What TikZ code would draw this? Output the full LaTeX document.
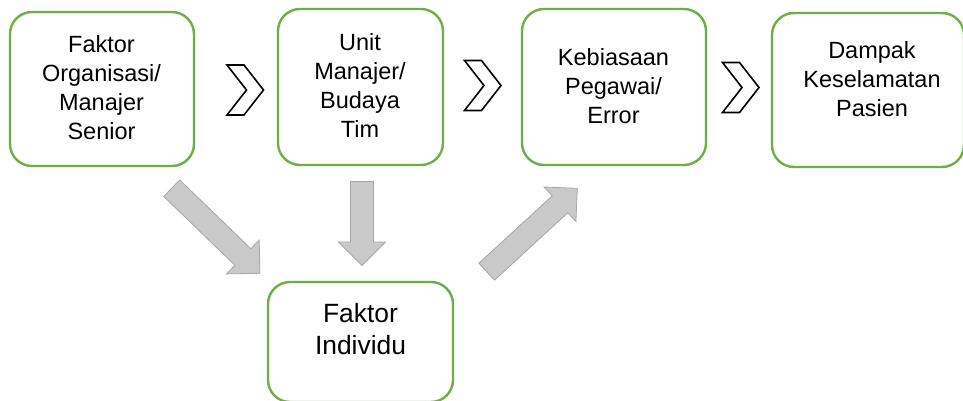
\documentclass[tikz,border=0pt]{standalone}
\usepackage{fontspec}
\setmainfont{Liberation Sans}

\definecolor{boxgreen}{RGB}{112,173,71}
\definecolor{arrowfill}{RGB}{201,201,201}
\definecolor{arrowedge}{RGB}{166,166,166}

\tikzset{
  stage/.style={draw=boxgreen, line width=2.4pt, rounded corners=22pt, fill=white,
                inner sep=0pt, outer sep=0pt},
  stagetext/.style={align=center, inner sep=0pt,
                    font=\fontsize{23.5}{29}\selectfont},
  bigtext/.style={align=center, inner sep=0pt,
                  font=\fontsize{26.4}{32}\selectfont},
  chevron/.style={draw=black, line width=1.6pt, fill=white, line join=miter},
  blockarrow/.style={fill=arrowfill, draw=arrowedge, line width=0.8pt, line join=miter},
  % outlined chevron between two stages
  chev/.pic={
    \draw[chevron] (-18,-25) -- (-1,-25) -- (18.5,0) -- (-1,25) -- (-18,25) -- (1.5,0) -- cycle;
  },
  % thick grey block arrow along the local x axis; #1 = shaft length
  blockarr/.pic={
    \draw[blockarrow] (0,-11.5) -- (#1,-11.5) -- (#1,-23.5) -- ({#1+23.5},0)
      -- (#1,23.5) -- (#1,11.5) -- (0,11.5) -- cycle;
  }
}

\begin{document}
\begin{tikzpicture}[x=1pt, y=-1pt]
  \useasboundingbox (0,0) rectangle (963,401);
  \fill[white] (0,0) rectangle (963,401);
  \clip (0,0) rectangle (963,401);

  % top row of stages
  \node[stage, minimum width=184pt, minimum height=154pt] (org)    at (102,89)  {};
  \node[stage, minimum width=165pt, minimum height=156pt] (unit)   at (360.5,87) {};
  \node[stage, minimum width=184pt, minimum height=156pt] (habit)  at (614,87)  {};
  \node[stage, minimum width=192pt, minimum height=154pt] (impact) at (868,90)  {};
  % individual factor below, its lower edge at the foot of the picture
  \node[stage, minimum width=185pt, minimum height=120pt] (indiv)  at (360.5,342) {};

  \node[stagetext] (org-t)    at (101.5,88)  {Faktor\\Organisasi/\\Manajer\\Senior};
  \node[stagetext] (unit-t)   at (360,85.5)  {Unit\\Manajer/\\Budaya\\Tim};
  \node[stagetext] (habit-t)  at (613.5,86.5) {Kebiasaan\\Pegawai/\\Error};
  \node[stagetext] (impact-t) at (872,79)    {Dampak\\Keselamatan\\Pasien};
  \node[bigtext]   (indiv-t)  at (360.5,329.5) {Faktor\\Individu};

  % chevrons along the top row
  \pic (c1) at (245,90)   {chev};
  \pic (c2) at (482.5,85.5) {chev};
  \pic (c3) at (740.5,87.5) {chev};

  % grey block arrows into and out of the individual factor
  \coordinate (a1) at (171.7,188.2);
  \coordinate (a2) at (362,181.5);
  \coordinate (a3) at (486.7,271.7);
  \pic[rotate=-44]  at (a1) {blockarr=99};
  \pic[rotate=-90]  at (a2) {blockarr=60.5};
  \pic[rotate=42.6] at (a3) {blockarr=99.6};
\end{tikzpicture}
\end{document}
